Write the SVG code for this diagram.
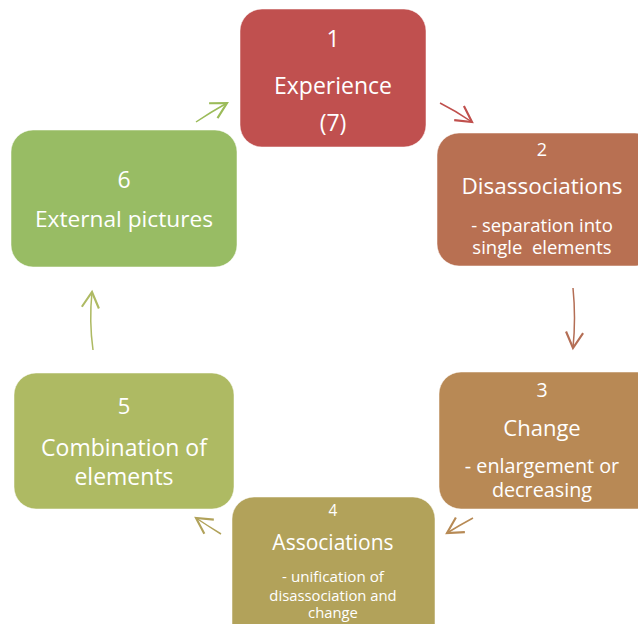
<svg xmlns="http://www.w3.org/2000/svg" width="638" height="624" viewBox="0 0 638 624">
  <style>
    .box { stroke: #ffffff; stroke-opacity: 0.5; stroke-width: 1; }
    .t { font-family: "Open Sans", "Noto Sans", "Liberation Sans", sans-serif; fill: #ffffff; text-anchor: middle; }
    .link { fill: none; stroke-width: 1.5; }
  </style>
  <defs>
    <marker id="head-red" markerUnits="userSpaceOnUse" markerWidth="20" markerHeight="20" refX="12" refY="7" orient="auto" viewBox="0 0 14 14">
      <path d="M1,1 L12,7 L1,13" fill="none" stroke="#C0504D" stroke-width="1.5"/>
    </marker>
    <marker id="head-rust" markerUnits="userSpaceOnUse" markerWidth="20" markerHeight="20" refX="12" refY="7" orient="auto" viewBox="0 0 14 14">
      <path d="M1,1 L12,7 L1,13" fill="none" stroke="#B46E55" stroke-width="1.5"/>
    </marker>
    <marker id="head-tan" markerUnits="userSpaceOnUse" markerWidth="20" markerHeight="20" refX="12" refY="7" orient="auto" viewBox="0 0 14 14">
      <path d="M1,1 L12,7 L1,13" fill="none" stroke="#B78A55" stroke-width="1.5"/>
    </marker>
    <marker id="head-olive" markerUnits="userSpaceOnUse" markerWidth="20" markerHeight="20" refX="12" refY="7" orient="auto" viewBox="0 0 14 14">
      <path d="M1,1 L12,7 L1,13" fill="none" stroke="#B1A25A" stroke-width="1.5"/>
    </marker>
    <marker id="head-lime" markerUnits="userSpaceOnUse" markerWidth="20" markerHeight="20" refX="12" refY="7" orient="auto" viewBox="0 0 14 14">
      <path d="M1,1 L12,7 L1,13" fill="none" stroke="#AEBA63" stroke-width="1.5"/>
    </marker>
    <marker id="head-green" markerUnits="userSpaceOnUse" markerWidth="20" markerHeight="20" refX="12" refY="7" orient="auto" viewBox="0 0 14 14">
      <path d="M1,1 L12,7 L1,13" fill="none" stroke="#9BBB59" stroke-width="1.5"/>
    </marker>
  </defs>

  <rect width="638" height="624" fill="#ffffff"/>

  <!-- cycle connectors -->
  <g id="connectors">
    <path class="link" stroke="#C0504D" marker-end="url(#head-red)" d="M440,103 Q456,111 472,122"/>
    <path class="link" stroke="#B46E55" marker-end="url(#head-rust)" d="M573,288 Q576,318 573,348"/>
    <path class="link" stroke="#B78A55" marker-end="url(#head-tan)" d="M473,518 Q460,525 447,533"/>
    <path class="link" stroke="#B1A25A" marker-end="url(#head-olive)" d="M221,534 Q208,526 196,518"/>
    <path class="link" stroke="#AEBA63" marker-end="url(#head-lime)" d="M93,350 Q89,321 92,292"/>
    <path class="link" stroke="#9BBB59" marker-end="url(#head-green)" d="M196,122 Q211,112 227,103"/>
  </g>

  <g id="node1">
    <rect class="box" x="240" y="9" width="186" height="138" rx="22" fill="#C0504F"/>
    <text class="t" x="333" y="47" font-size="23">1</text>
    <text class="t" x="333" y="94" font-size="23">Experience</text>
    <text class="t" x="333" y="131" font-size="23">(7)</text>
  </g>

  <g id="node2">
    <rect class="box" x="437" y="133" width="220" height="133" rx="22" fill="#B87052"/>
    <text class="t" x="542" y="156" font-size="18">2</text>
    <text class="t" x="542" y="194" font-size="22.5">Disassociations</text>
    <text class="t" x="542" y="232" font-size="18.5">- separation into</text>
    <text class="t" x="542" y="254" font-size="18.5" xml:space="preserve">single  elements</text>
  </g>

  <g id="node3">
    <rect class="box" x="439" y="372" width="220" height="137" rx="22" fill="#B88955"/>
    <text class="t" x="542" y="397" font-size="19.5">3</text>
    <text class="t" x="542" y="436" font-size="22">Change</text>
    <text class="t" x="542" y="473" font-size="19.8">- enlargement or</text>
    <text class="t" x="542" y="497" font-size="19.8">decreasing</text>
  </g>

  <g id="node4">
    <rect class="box" x="232" y="497" width="203" height="150" rx="22" fill="#B2A25A"/>
    <text class="t" x="333" y="516" font-size="15.4">4</text>
    <text class="t" x="333" y="550" font-size="21">Associations</text>
    <text class="t" x="333" y="582" font-size="15.2">- unification of</text>
    <text class="t" x="333" y="601" font-size="14.8">disassociation and</text>
    <text class="t" x="333" y="618" font-size="14.8">change</text>
  </g>

  <g id="node5">
    <rect class="box" x="14" y="373" width="220" height="136" rx="22" fill="#AEBA63"/>
    <text class="t" x="124" y="414" font-size="22">5</text>
    <text class="t" x="124" y="456" font-size="23">Combination of</text>
    <text class="t" x="124" y="485" font-size="23">elements</text>
  </g>

  <g id="node6">
    <rect class="box" x="11" y="130" width="226" height="137" rx="22" fill="#98BC64"/>
    <text class="t" x="124" y="188" font-size="23">6</text>
    <text class="t" x="124" y="227" font-size="22.7">External pictures</text>
  </g>
</svg>
